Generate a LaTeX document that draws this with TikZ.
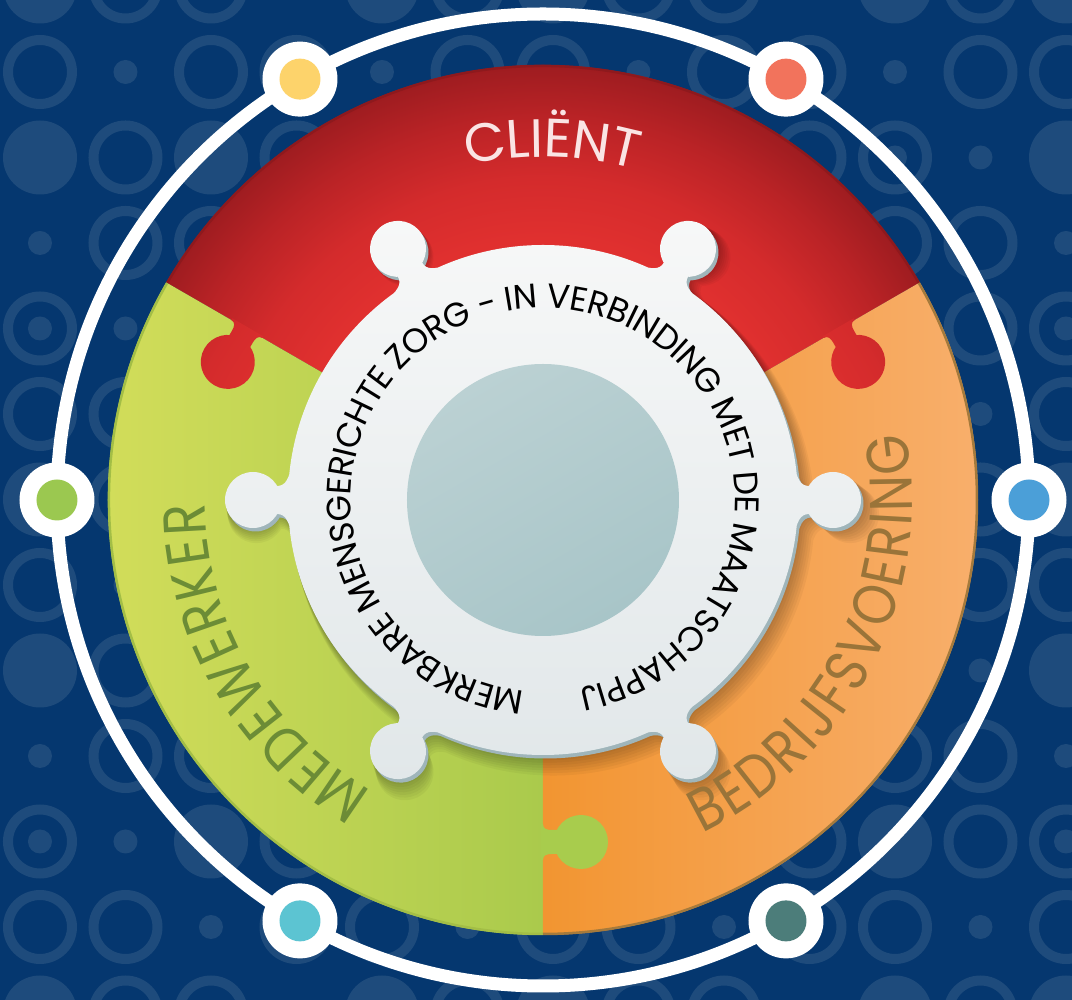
\documentclass[tikz,border=0pt]{standalone}
\usepackage{fontspec}
\setmainfont{Poppins}
\newfontfamily\narrowpop{Poppins}[FakeStretch=0.86]
\definecolor{bg}{HTML}{05376F}
\definecolor{pat}{HTML}{1E4B7C}
\definecolor{redA}{HTML}{E0302F}
\definecolor{redB}{HTML}{D42B2C}
\definecolor{redC}{HTML}{BA2326}
\definecolor{redD}{HTML}{9E1C20}
\definecolor{grnL}{HTML}{D2DD5A}
\definecolor{grnR}{HTML}{AACA4C}
\definecolor{grnTab}{HTML}{A8CC4D}
\definecolor{orL}{HTML}{F29531}
\definecolor{orR}{HTML}{F8AF6C}
\definecolor{gearA}{HTML}{F7F8F8}
\definecolor{gearB}{HTML}{E1E7E9}
\definecolor{gearRim}{HTML}{9FB5BA}
\definecolor{hubA}{HTML}{BBD1D3}
\definecolor{hubB}{HTML}{A8C5C8}
\definecolor{clientc}{HTML}{FAE4E4}
\definecolor{medc}{HTML}{6C8C36}
\definecolor{bedc}{HTML}{9A7439}
\definecolor{rimR}{HTML}{8E191D}
\definecolor{rimG}{HTML}{A3BE46}
\definecolor{rimO}{HTML}{A57A3C}
\definecolor{dotY}{HTML}{FDD36B}
\definecolor{dotC}{HTML}{F2735C}
\definecolor{dotG}{HTML}{9BC850}
\definecolor{dotB}{HTML}{4B9FD8}
\definecolor{dotT}{HTML}{5CC4D2}
\definecolor{dotD}{HTML}{4C7D7A}
\pgfdeclareradialshading{redsh}{\pgfpoint{0bp}{0bp}}{color(0bp)=(redA); color(15bp)=(redA); color(18.5bp)=(redB); color(22bp)=(redC); color(25bp)=(redD); color(50bp)=(redD)}
\def\gearpath{(0,0) circle (255pt)
  foreach \a in {0,60,...,300}{ {[rotate=\a] (290,0) circle (28pt)
  (251,-36) .. controls (254,-22) and (257,-14) .. (266,-14) -- (272,-14) -- (272,14) -- (266,14) .. controls (257,14) and (254,22) .. (251,36) -- cycle} }}
\def\tabpath{(360,-2) -- (360,0) .. controls (355,0) and (354,4) .. (354,9) -- (354,16) -- (330,16) -- (330,9) .. controls (330,4) and (329,0) .. (324,0) -- (324,-2) -- cycle (342,38) circle (27pt)}
% #1 name prefix, #2 letters, #3 radius, #4 centre angle, #5 direction (1 ccw tops inward, -1 cw tops outward), #6 font, #7 colour, #8 span in degrees
\newcommand\atmeasure[2]{\setbox0=\hbox{\pgfinterruptpicture#1#2\endpgfinterruptpicture}\edef\atw{\the\wd0}}
\newcommand\arctext[8]{%
  \begingroup
  \gdef\atW{0}\gdef\atN{0}%
  \foreach \ch in {#2}{%
    \atmeasure{#6}{\ch}%
    \pgfmathsetmacro\atTmp{\atW+\atw}\xdef\atW{\atTmp}%
    \pgfmathtruncatemacro\atTmp{\atN+1}\xdef\atN{\atTmp}%
  }%
  \pgfmathsetmacro\atTrack{(#8*pi/180*#3-\atW)/(\atN-1)}%
  \pgfmathsetmacro\atL{\atW+\atTrack*(\atN-1)}%
  \pgfmathsetmacro\atStart{#4-(#5)*(\atL/2)/#3*180/pi}%
  \gdef\atAcc{0}%
  \foreach \ch [count=\n] in {#2}{%
    \atmeasure{#6}{\ch}%
    \pgfmathsetmacro\atTh{\atStart+(#5)*(\atAcc+\atw/2)/#3*180/pi}%
    \pgfmathsetmacro\atRot{\atTh+(#5)*90}%
    \node[anchor=base, rotate=\atRot, inner sep=0pt, outer sep=0pt, text=#7, font={#6}] (#1-\n) at (\atTh:#3) {\ch};%
    \pgfmathsetmacro\atTmp{\atAcc+\atw+\atTrack}\xdef\atAcc{\atTmp}%
  }%
  \endgroup
}
\begin{document}
\begin{tikzpicture}[x=1pt,y=1pt]
\useasboundingbox (-543,-500) rectangle (529,500);
\fill[bg] (-543,-500) rectangle (529,500);
% background pattern
\begin{scope}
\clip (-543,-500) rectangle (529,500);
\foreach \i in {0,...,12}{
  \foreach \j in {0,...,12}{
    \pgfmathsetmacro\px{40+85.5*\i-543}
    \pgfmathsetmacro\py{500-(-13.5+85.5*\j)}
    \pgfmathtruncatemacro\t{mod(\i*7+\j*11+\i*\j*3,6)}
    \ifcase\t
      \fill[pat] (\px,\py) circle (37pt);
    \or
      \draw[pat, line width=10pt] (\px,\py) circle (32pt);
    \or
      \draw[pat, line width=10pt] (\px,\py) circle (32pt);
      \fill[pat] (\px,\py) circle (12pt);
    \or
      \fill[pat] (\px,\py) circle (12pt);
    \or
      \fill[pat] (\px,\py) circle (37pt);
    \else
      \draw[pat, line width=10pt] (\px,\py) circle (32pt);
    \fi
  }
}
\end{scope}
% outer ring and dots
\draw[white, line width=13pt] (0,0) circle (486pt);
\foreach \a/\c in {120/dotY,60/dotC,180/dotG,0/dotB,240/dotT,300/dotD}{
  \fill[white] (\a:486) circle (37.5pt);
  \fill[\c] (\a:486) circle (20.5pt);
}
% red segment
\begin{scope}
\clip (0,0) -- (30:436) arc[start angle=30, end angle=150, radius=436pt] -- cycle;
\shade[shading=redsh] (0,0) circle (435pt);
\end{scope}
% green segment
\begin{scope}
\clip (0,0) -- (150:436) arc[start angle=150, end angle=270, radius=436pt] -- cycle;
\clip (0,0) circle (435pt);
\shade[left color=grnL, right color=grnR] (-440,-440) rectangle (0,240);
\end{scope}
% orange segment
\begin{scope}
\clip (0,0) -- (270:436) arc[start angle=270, end angle=390, radius=436pt] -- cycle;
\clip (0,0) circle (435pt);
\shade[left color=orL, right color=orR] (0,-440) rectangle (440,240);
\end{scope}
% rims
\draw[rimR, line width=2.5pt] (30:434) arc[start angle=30, end angle=150, radius=434pt];
\draw[rimG, line width=2.5pt] (150:434) arc[start angle=150, end angle=270, radius=434pt];
\draw[rimO, line width=2.5pt] (270:434) arc[start angle=270, end angle=390, radius=434pt];
% puzzle tabs
\begin{scope}[rotate=150]
\clip \tabpath;
\shade[shading=redsh] (0,0) circle (435pt);
\end{scope}
\begin{scope}[rotate=30, yscale=-1]
\clip \tabpath;
\shade[shading=redsh] (0,0) circle (435pt);
\end{scope}
\begin{scope}[rotate=270]
\fill[grnTab] \tabpath;
\end{scope}
% gear soft shadow
\foreach \k in {1,...,8}{
  \fill[black, opacity=0.04, shift={(1.3*\k,-1.8*\k)}, scale={1+0.003*\k}] \gearpath;
}
\fill[gearRim, shift={(2.5,-3.5)}] \gearpath;
\shade[top color=gearA, bottom color=gearB] \gearpath;
% hub
\shade[left color=hubA, right color=hubB, shading angle=30] (0,0) circle (136pt);
% texts
\arctext{cl}{C,L,I,Ë,N,T}{343}{88.5}{-1}{\fontsize{54}{54}\selectfont}{clientc}{28.5}
\arctext{me}{M,E,D,E,W,E,R,K,E,R}{338}{210}{-1}{\narrowpop\fontsize{60}{60}\selectfont}{medc}{59}
\arctext{be}{B,E,D,R,I,J,F,S,V,O,E,R,I,N,G}{369}{-27}{1}{\narrowpop\fontsize{60}{60}\selectfont}{bedc}{75}
\arctext{in}{M,E,R,K,B,A,R,E,\ ,M,E,N,S,G,E,R,I,C,H,T,E,\ ,Z,O,R,G,\ ,-,\ ,I,N,\ ,V,E,R,B,I,N,D,I,N,G,\ ,M,E,T,\ ,D,E,\ ,M,A,A,T,S,C,H,A,P,P,I,J}{192}{92.45}{-1}{\fontsize{34}{34}\selectfont}{black}{343.9}
\end{tikzpicture}
\end{document}
